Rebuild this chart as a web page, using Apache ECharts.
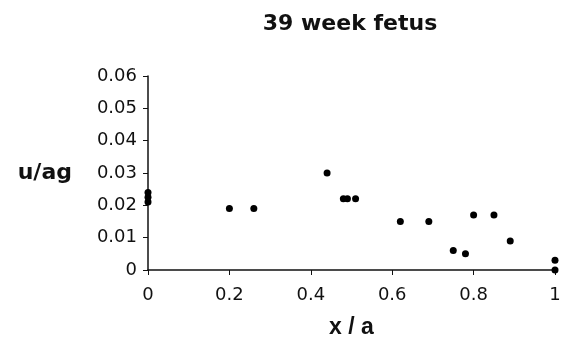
<!DOCTYPE html>
<html>
<head>
<meta charset="utf-8">
<script src="https://cdn.jsdelivr.net/npm/echarts@6/dist/echarts.min.js"></script>
<style>
  html, body { margin: 0; padding: 0; background: #fff; }
  #chart { width: 562px; height: 340px; }
</style>
</head>
<body>
<div id="chart"></div>
<script>
// x/a positions and u/ag values
const xPos = [0, 0, 0, 0.2, 0.26, 0.44, 0.48, 0.49, 0.51, 0.62, 0.69, 0.75, 0.78, 0.8, 0.85, 0.89, 1, 1];
const uVals = [0.024, 0.0225, 0.021, 0.019, 0.019, 0.03, 0.022, 0.022, 0.022, 0.015, 0.015, 0.006, 0.005, 0.017, 0.017, 0.009, 0.003, 0];
const xTicks = ['0', '0.2', '0.4', '0.6', '0.8', '1'];
const yTicks = ['0', '0.01', '0.02', '0.03', '0.04', '0.05', '0.06'];

const font = '"DejaVu Sans", sans-serif';
const points = xPos.map((x, i) => [x, uVals[i]]);

const chart = echarts.init(document.getElementById('chart'));
chart.setOption({
  animation: false,
  title: {
    text: '39 week fetus',
    left: 345,
    top: 8,
    textAlign: 'center',
    textStyle: { fontFamily: font, fontSize: 22, fontWeight: 'bold', color: '#111' }
  },
  grid: { left: 148, right: 7, top: 76, bottom: 70, outerBoundsMode: 'none' },
  xAxis: {
    type: 'value',
    min: 0, max: 1, interval: 0.2,
    name: 'x / a',
    nameLocation: 'middle',
    nameGap: 46,
    nameTextStyle: { fontFamily: '"Liberation Sans", Arial, sans-serif', fontSize: 23, fontWeight: 'bold', color: '#111' },
    splitLine: { show: false },
    axisLine: { lineStyle: { color: '#111', width: 1.5 } },
    axisTick: { length: 5, lineStyle: { color: '#111' } },
    axisLabel: {
      margin: 16,
      fontFamily: font, fontSize: 18, color: '#111',
      formatter: v => xTicks[Math.round(v / 0.2)]
    }
  },
  yAxis: {
    type: 'value',
    min: 0, max: 0.06, interval: 0.01,
    name: 'u/ag',
    nameLocation: 'middle',
    nameRotate: 0,
    nameGap: 76,
    nameTextStyle: { fontFamily: font, fontSize: 22, fontWeight: 'bold', color: '#111', align: 'right' },
    splitLine: { show: false },
    axisLine: { show: true, lineStyle: { color: '#111', width: 1.5 } },
    axisTick: { show: true, length: 5, lineStyle: { color: '#111' } },
    axisLabel: {
      margin: 11,
      fontFamily: font, fontSize: 18, color: '#111',
      formatter: v => yTicks[Math.round(v / 0.01)]
    }
  },
  series: [{
    type: 'scatter',
    data: points,
    symbol: 'circle',
    symbolSize: 7,
    itemStyle: { color: '#000', opacity: 1 }
  }]
});
</script>
</body>
</html>
